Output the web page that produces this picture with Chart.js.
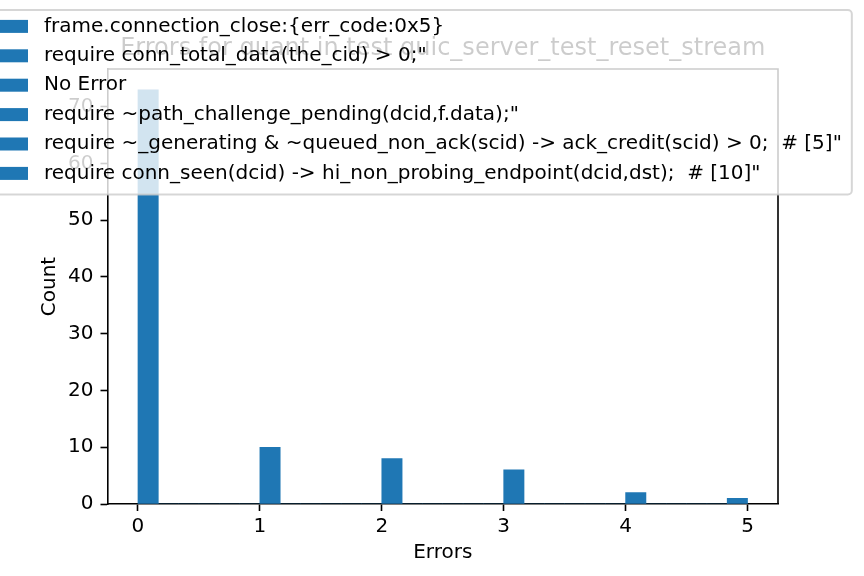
<!DOCTYPE html>
<html>
<head>
<meta charset="utf-8">
<script src="https://cdn.jsdelivr.net/npm/chart.js@4.4.1/dist/chart.umd.min.js"></script>
<style>
html,body{margin:0;padding:0;background:#fff;}
canvas{display:block;}
</style>
</head>
<body>
<canvas id="c" width="864" height="576"></canvas>
<script>
// ---- data ----
const errorValues = [0, 1, 2, 3, 4, 5];
const errorCounts = [73, 10, 8, 6, 2, 1];
const xTicks = [0, 1, 2, 3, 4, 5];
const yTicks = [0, 10, 20, 30, 40, 50, 60, 70];
const legendLabels = [
  "frame.connection_close:{err_code:0x5}",
  "require conn_total_data(the_cid) > 0;\"",
  "No Error",
  "require ~path_challenge_pending(dcid,f.data);\"",
  "require ~_generating & ~queued_non_ack(scid) -> ack_credit(scid) > 0;  # [5]\"",
  "require conn_seen(dcid) -> hi_non_probing_endpoint(dcid,dst);  # [10]\""
];
const titleText = "Errors for quant in test quic_server_test_reset_stream";
const binCount = 30;
const binLow = 0;
const binHigh = 5;

// ---- histogram table built from the arrays above ----
const binWidth = (binHigh - binLow) / binCount;
const bins = [];
for (let i = 0; i < binCount; i++) bins.push({x: binLow + (i + 0.5) * binWidth, y: 0});
errorValues.forEach((v, k) => {
  let idx = Math.floor((v - binLow) / binWidth);
  if (idx >= binCount) idx = binCount - 1;
  bins[idx].y += errorCounts[k];
});
const maxCount = Math.max(...errorCounts);

Chart.defaults.font.family = '"DejaVu Sans", sans-serif';
Chart.defaults.font.size = 20;
Chart.defaults.color = '#000';

const BLUE = '#1f77b4';
const FS = 20;

const overlayPlugin = {
  id: 'overlay',
  afterLayout(chart) {
    const ca = chart.chartArea;
    if (chart.titleBlock) {
      chart.titleBlock.left = ca.left;
      chart.titleBlock.right = ca.right;
    }
  },
  afterDraw(chart) {
    const ctx = chart.ctx;
    const ca = chart.chartArea;
    ctx.save();
    // top and right spines
    ctx.strokeStyle = '#000';
    ctx.lineWidth = 1.6;
    ctx.beginPath();
    ctx.moveTo(ca.left, ca.top);
    ctx.lineTo(ca.right, ca.top);
    ctx.lineTo(ca.right, ca.bottom);
    ctx.stroke();

    // legend (matplotlib style, semi-transparent frame)
    ctx.font = FS + 'px "DejaVu Sans"';
    const maxW = Math.max(...legendLabels.map(t => ctx.measureText(t).width));
    const textX = 44;
    const handleR = textX - 0.8 * FS;
    const handleL = handleR - 2 * FS;
    const boxL = handleL - 0.4 * FS;
    const boxR = textX + maxW + 0.4 * FS + 2;
    const boxT = 10;
    const row0 = 26.4;
    const rowH = 29.4;
    const boxB = 194.5;
    const r = 0.2 * FS;
    ctx.beginPath();
    ctx.moveTo(boxL + r, boxT);
    ctx.lineTo(boxR - r, boxT);
    ctx.arcTo(boxR, boxT, boxR, boxT + r, r);
    ctx.lineTo(boxR, boxB - r);
    ctx.arcTo(boxR, boxB, boxR - r, boxB, r);
    ctx.lineTo(boxL + r, boxB);
    ctx.arcTo(boxL, boxB, boxL, boxB - r, r);
    ctx.lineTo(boxL, boxT + r);
    ctx.arcTo(boxL, boxT, boxL + r, boxT, r);
    ctx.closePath();
    ctx.fillStyle = 'rgba(255,255,255,0.8)';
    ctx.fill();
    ctx.strokeStyle = 'rgba(204,204,204,0.8)';
    ctx.lineWidth = 2;
    ctx.stroke();

    ctx.textAlign = 'left';
    ctx.textBaseline = 'middle';
    legendLabels.forEach((t, i) => {
      const cy = row0 + i * rowH;
      ctx.fillStyle = BLUE;
      ctx.fillRect(handleL, cy - 6.5, handleR - handleL, 13);
      ctx.fillStyle = '#000';
      ctx.fillText(t, textX, cy);
    });
    ctx.restore();
  }
};

new Chart(document.getElementById('c'), {
  type: 'bar',
  data: {
    datasets: [{
      data: bins,
      backgroundColor: BLUE,
      borderWidth: 0,
      barPercentage: 1.0,
      categoryPercentage: 1.0
    }]
  },
  options: {
    responsive: false,
    animation: false,
    devicePixelRatio: 1,
    layout: {padding: {left: 0, right: 86, top: 0, bottom: 0}},
    plugins: {
      legend: {display: false},
      tooltip: {enabled: false},
      title: {
        display: true,
        text: titleText,
        color: '#000',
        font: {size: 24, weight: 'normal'},
        padding: {top: 34.6, bottom: 5.6}
      }
    },
    scales: {
      x: {
        type: 'linear',
        min: -0.25,
        max: 5.25,
        offset: false,
        afterBuildTicks: s => { s.ticks = xTicks.map(v => ({value: v})); },
        afterFit: s => { s.height = 72; },
        grid: {display: true, drawOnChartArea: false, drawTicks: true, offset: false,
               tickLength: 7, tickWidth: 1.6, tickColor: '#000'},
        border: {display: true, color: '#000', width: 1.6},
        ticks: {color: '#000', padding: 3.5, font: {size: 20}, maxRotation: 0, autoSkip: false,
                callback: v => String(v)},
        title: {display: true, text: 'Errors', color: '#000', font: {size: 20},
                padding: {top: 0, bottom: 11.6}}
      },
      y: {
        type: 'linear',
        min: 0,
        max: maxCount * 1.05,
        afterBuildTicks: s => { s.ticks = yTicks.map(v => ({value: v})); },
        afterFit: s => { s.width = 107.5; },
        grid: {display: true, drawOnChartArea: false, drawTicks: true,
               tickLength: 7, tickWidth: 1.6, tickColor: '#000'},
        border: {display: true, color: '#000', width: 1.6},
        ticks: {color: '#000', padding: 7, font: {size: 20}, callback: v => String(v)},
        title: {display: true, text: 'Count', color: '#000', font: {size: 20},
                padding: {top: 38, bottom: 0}}
      }
    }
  },
  plugins: [overlayPlugin]
});
</script>
</body>
</html>
